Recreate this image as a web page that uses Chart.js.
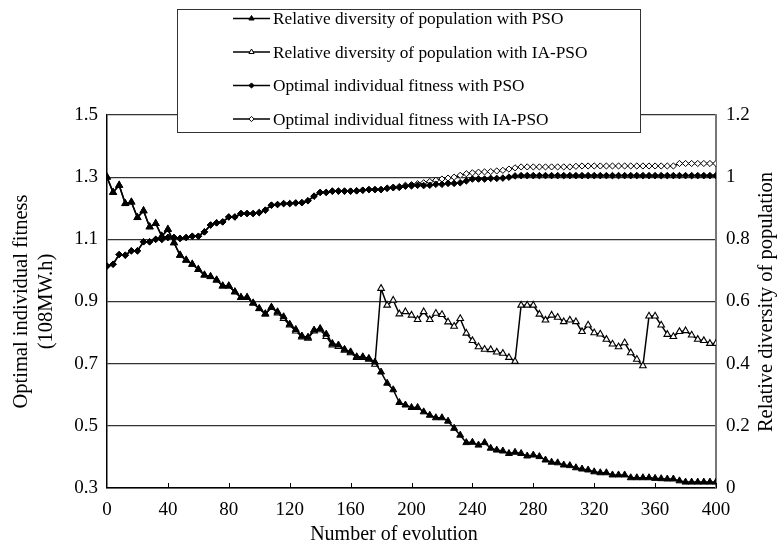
<!DOCTYPE html>
<html>
<head>
<meta charset="utf-8">
<script src="https://cdn.jsdelivr.net/npm/chart.js@4/dist/chart.umd.min.js"></script>
<style>
html,body{margin:0;padding:0;background:#fff;}
#wrap{position:relative;width:780px;height:547px;}
</style>
</head>
<body>
<div id="wrap"><canvas id="c" width="780" height="547"></canvas></div>
<script>
// ---------- data ----------
const generations = [0,4,8,12,16,20,24,28,32,36,40,44,48,52,56,60,64,68,72,76,80,84,88,92,96,100,
  104,108,112,116,120,124,128,132,136,140,144,148,152,156,160,164,168,172,176,180,184,188,192,196,200,
  204,208,212,216,220,224,228,232,236,240,244,248,252,256,260,264,268,272,276,280,284,288,292,296,300,
  304,308,312,316,320,324,328,332,336,340,344,348,352,356,360,364,368,372,376,380,384,388,392,396,400];

const diversityPSO = [1.0,0.951,0.974,0.915,0.92,0.87,0.892,0.84,0.851,0.81,0.832,0.789,0.749,0.733,0.72,0.703,0.685,0.68,0.669,0.65,0.65,0.631,0.613,0.613,0.595,0.577,
  0.56,0.581,0.567,0.551,0.527,0.51,0.489,0.485,0.508,0.513,0.495,0.465,0.46,0.446,0.438,0.422,0.422,0.417,0.405,0.373,0.337,0.316,0.275,0.267,0.259,
  0.259,0.245,0.234,0.226,0.226,0.215,0.192,0.17,0.146,0.147,0.138,0.146,0.128,0.122,0.119,0.111,0.115,0.111,0.103,0.106,0.101,0.09,0.083,0.081,0.074,
  0.072,0.065,0.061,0.058,0.052,0.049,0.049,0.042,0.042,0.042,0.033,0.033,0.033,0.033,0.031,0.03,0.029,0.029,0.023,0.019,0.019,0.019,0.019,0.019,0.019];

const diversityIAPSO = [1.0,0.951,0.974,0.915,0.92,0.87,0.892,0.84,0.851,0.81,0.832,0.789,0.749,0.733,0.72,0.703,0.685,0.68,0.669,0.65,0.65,0.631,0.613,0.613,0.595,0.577,
  0.56,0.581,0.563,0.545,0.524,0.505,0.486,0.482,0.505,0.509,0.487,0.46,0.455,0.443,0.435,0.42,0.42,0.414,0.398,0.642,0.588,0.604,0.56,0.567,0.556,
  0.542,0.567,0.542,0.562,0.558,0.534,0.52,0.545,0.498,0.474,0.454,0.446,0.445,0.437,0.433,0.42,0.407,0.588,0.588,0.588,0.559,0.54,0.556,0.549,0.535,
  0.54,0.535,0.503,0.524,0.499,0.495,0.478,0.463,0.454,0.467,0.435,0.414,0.393,0.553,0.553,0.524,0.494,0.487,0.503,0.506,0.492,0.478,0.474,0.465,0.465];

const fitnessPSO = [1.014,1.02,1.051,1.049,1.063,1.063,1.092,1.092,1.1,1.1,1.106,1.106,1.103,1.106,1.11,1.11,1.124,1.146,1.153,1.156,1.172,1.172,1.183,1.183,1.183,1.186,
  1.194,1.21,1.212,1.215,1.215,1.217,1.218,1.224,1.239,1.251,1.251,1.255,1.255,1.255,1.255,1.256,1.258,1.26,1.26,1.26,1.264,1.266,1.267,1.271,1.272,
  1.274,1.273,1.274,1.277,1.277,1.28,1.28,1.282,1.288,1.294,1.294,1.294,1.296,1.296,1.297,1.3,1.304,1.305,1.305,1.305,1.305,1.305,1.305,1.305,1.305,
  1.305,1.305,1.305,1.305,1.305,1.305,1.305,1.305,1.305,1.305,1.305,1.305,1.305,1.305,1.305,1.305,1.305,1.305,1.305,1.305,1.305,1.305,1.305,1.305,1.305];

const fitnessIAPSO = [1.014,1.02,1.051,1.049,1.063,1.063,1.092,1.092,1.1,1.1,1.106,1.106,1.103,1.106,1.11,1.11,1.124,1.146,1.153,1.156,1.172,1.172,1.183,1.183,1.183,1.186,
  1.194,1.21,1.212,1.215,1.215,1.217,1.218,1.224,1.239,1.251,1.251,1.255,1.255,1.255,1.255,1.256,1.258,1.26,1.26,1.26,1.265,1.268,1.27,1.274,1.276,
  1.279,1.282,1.286,1.29,1.294,1.297,1.3,1.306,1.311,1.314,1.316,1.317,1.318,1.32,1.322,1.326,1.33,1.333,1.333,1.333,1.333,1.333,1.333,1.333,1.333,
  1.333,1.335,1.336,1.336,1.336,1.336,1.336,1.336,1.336,1.336,1.336,1.336,1.336,1.336,1.336,1.336,1.336,1.336,1.344,1.344,1.344,1.344,1.344,1.344,1.344];

const seriesLabels = [
  'Relative diversity of population with PSO',
  'Relative diversity of population with IA-PSO',
  'Optimal individual fitness with PSO',
  'Optimal individual fitness with IA-PSO'
];
const xTicks = [0,40,80,120,160,200,240,280,320,360,400];
const fitnessTicks = [0.3,0.5,0.7,0.9,1.1,1.3,1.5];
const diversityTicks = [0,0.2,0.4,0.6,0.8,1,1.2];
const xTitle = 'Number of evolution';
const leftTitle = ['Optimal individual fitness','(108MW.h)'];
const rightTitle = 'Relative diversity of population';

// ---------- chart ----------
const FONT = '"Liberation Serif","Times New Roman",serif';
Chart.defaults.font.family = FONT;
Chart.defaults.color = '#000';

const pairs = arr => generations.map((g, i) => ({x: g, y: arr[i]}));

const datasets = [
  {label: seriesLabels[0], data: pairs(diversityPSO), yAxisID: 'yR',
   pointStyle: 'triangle', pointRadius: 4, pointBackgroundColor: '#000', pointBorderColor: '#000', pointBorderWidth: 1},
  {label: seriesLabels[1], data: pairs(diversityIAPSO), yAxisID: 'yR',
   pointStyle: 'triangle', pointRadius: 3.8, pointBackgroundColor: '#fff', pointBorderColor: '#000', pointBorderWidth: 1.1},
  {label: seriesLabels[2], data: pairs(fitnessPSO), yAxisID: 'yL',
   pointStyle: 'rectRot', pointRadius: 3.3, pointBackgroundColor: '#000', pointBorderColor: '#000', pointBorderWidth: 1},
  {label: seriesLabels[3], data: pairs(fitnessIAPSO), yAxisID: 'yL',
   pointStyle: 'rectRot', pointRadius: 3.1, pointBackgroundColor: '#fff', pointBorderColor: '#000', pointBorderWidth: 1}
].map(d => Object.assign({borderColor: '#000', borderWidth: 1.5, fill: false, tension: 0}, d));

function marker(ctx, style, fill, x, y, r) {
  ctx.save();
  ctx.fillStyle = fill;
  ctx.strokeStyle = '#000';
  ctx.lineWidth = 1;
  ctx.beginPath();
  if (style === 'triangle') {
    const h = r * 1.5, w = r * Math.sqrt(3);
    ctx.moveTo(x, y - r);
    ctx.lineTo(x + w / 2, y - r + h);
    ctx.lineTo(x - w / 2, y - r + h);
  } else {
    ctx.moveTo(x, y - r); ctx.lineTo(x + r, y); ctx.lineTo(x, y + r); ctx.lineTo(x - r, y);
  }
  ctx.closePath();
  ctx.fill();
  ctx.stroke();
  ctx.restore();
}

const extras = {
  id: 'extras',
  beforeDatasetsDraw(chart) {
    const ctx = chart.ctx, xs = chart.scales.x, b = chart.chartArea.bottom;
    ctx.save();
    ctx.strokeStyle = '#000';
    ctx.lineWidth = 1;
    xTicks.forEach(v => {
      if (v === 0) return;
      const px = Math.round(xs.getPixelForValue(v)) + 0.5;
      ctx.beginPath(); ctx.moveTo(px, b - 5); ctx.lineTo(px, b); ctx.stroke();
    });
    ctx.restore();
  },
  afterDraw(chart) {
    const ctx = chart.ctx;
    ctx.save();
    // legend box
    ctx.fillStyle = '#fff';
    ctx.fillRect(177, 9, 464, 124);
    ctx.strokeStyle = '#333';
    ctx.lineWidth = 1;
    ctx.strokeRect(177.5, 9.5, 463, 123);
    ctx.font = '17.3px ' + FONT;
    ctx.textBaseline = 'middle';
    ctx.textAlign = 'left';
    chart.data.datasets.forEach((ds, i) => {
      const y = 18.5 + i * 33.5;
      ctx.strokeStyle = '#000';
      ctx.lineWidth = 1.5;
      ctx.beginPath(); ctx.moveTo(233, y); ctx.lineTo(270, y); ctx.stroke();
      marker(ctx, ds.pointStyle, ds.pointBackgroundColor, 251.5, y, ds.pointStyle === 'triangle' ? 3 : 2.6);
      ctx.fillStyle = '#000';
      ctx.fillText(ds.label, 273, y + 1);
    });
    // x axis title
    ctx.font = '20px ' + FONT;
    ctx.textAlign = 'center';
    ctx.fillText(xTitle, 394, 535);
    // right axis title (reads bottom to top)
    ctx.font = '20.5px ' + FONT;
    ctx.translate(767, 302);
    ctx.rotate(-Math.PI / 2);
    ctx.fillText(rightTitle, 0, 0);
    ctx.restore();
  }
};

new Chart(document.getElementById('c'), {
  type: 'line',
  data: {datasets},
  options: {
    responsive: false,
    animation: false,
    devicePixelRatio: 1,
    layout: {padding: {top: 115, left: 0, right: 0, bottom: 0}},
    plugins: {legend: {display: false}, tooltip: {enabled: false}},
    scales: {
      x: {
        type: 'linear', min: 0, max: 400,
        afterBuildTicks: s => { s.ticks = xTicks.map(v => ({value: v})); },
        afterFit: s => { s.height = 59; },
        ticks: {font: {size: 19}, padding: 11, maxRotation: 0, callback: v => String(v)},
        grid: {display: false, drawTicks: false},
        border: {color: '#000', width: 1.5},
        title: {display: false}
      },
      yL: {
        type: 'linear', position: 'left', min: 0.3, max: 1.5,
        afterBuildTicks: s => { s.ticks = fitnessTicks.map(v => ({value: v})); },
        afterFit: s => { s.width = 107; },
        ticks: {font: {size: 19}, padding: 9, callback: v => v.toFixed(1)},
        grid: {color: '#333', lineWidth: 1.3, drawTicks: false},
        border: {color: '#000', width: 1.5},
        title: {display: true, text: leftTitle, font: {size: 20.5, lineHeight: '25px'}, padding: {top: 9, bottom: 0}}
      },
      yR: {
        type: 'linear', position: 'right', min: 0, max: 1.2,
        afterBuildTicks: s => { s.ticks = diversityTicks.map(v => ({value: v})); },
        afterFit: s => { s.width = 64; },
        ticks: {font: {size: 19}, padding: 10, callback: v => String(v)},
        grid: {display: false, drawTicks: false},
        border: {color: '#777', width: 2}
      }
    }
  },
  plugins: [extras]
});
</script>
</body>
</html>
